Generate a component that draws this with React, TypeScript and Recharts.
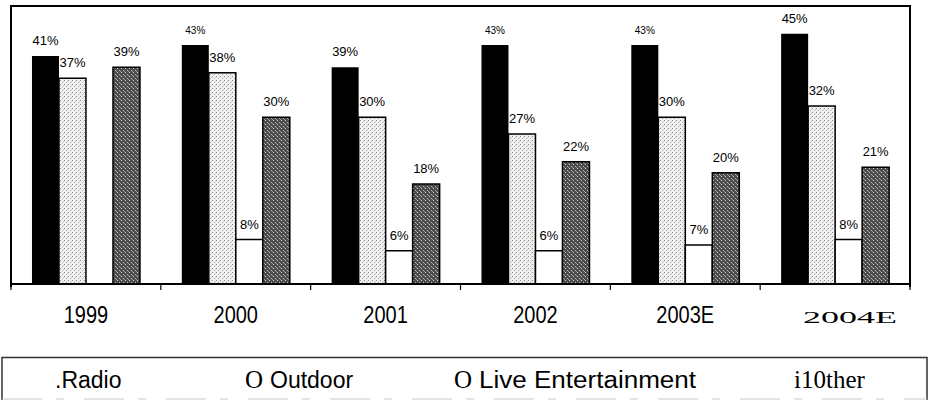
import React from 'react';
import { BarChart, Bar, XAxis, YAxis, LabelList } from 'recharts';

// values (percent)
const years = ['1999', '2000', '2001', '2002', '2003E', '2004E'];
const radio = [41, 43, 39, 43, 43, 45];
const outdoor = [37, 38, 30, 27, 30, 32];
const liveEntertainment = [null, 8, 6, 6, 7, 8];
const other = [39, 30, 18, 22, 20, 21];

const data = years.map((year, i) => ({
  year,
  radio: radio[i],
  outdoor: outdoor[i],
  live: liveEntertainment[i],
  other: other[i],
}));

const W = 932;
const MARGIN = { top: 6, right: 22, bottom: 0, left: 11 };
const PLOT_W = W - MARGIN.left - MARGIN.right;
const BAND = PLOT_W / years.length;
const SANS = "'Liberation Sans', Arial, sans-serif";
const SERIF = "'Liberation Serif', 'Times New Roman', serif";

// labels that were printed in a smaller size in the original
const smallLabels: Record<string, string[]> = {
  radio: ['2000', '2002', '2003E'],
  live: ['2004E'],
};

const makeLabel = (key: string) => (props: any) => {
  const { x, y, width, value, index } = props;
  if (value == null) return null;
  const small = (smallLabels[key] || []).includes(years[index]);
  return (
    <text
      x={Number(x) + Number(width) / 2}
      y={Number(y) - 11}
      textAnchor="middle"
      fontSize={small ? 10 : 13}
      fontFamily={SANS}
      fill="#000"
    >
      {value}%
    </text>
  );
};

const YearTick = (props: any) => {
  const { x, y, payload, index } = props;
  const last = index === years.length - 1;
  const serif = payload.value === '2004E';
  return (
    <g>
      <line x1={x - BAND / 2} x2={x - BAND / 2} y1={y} y2={y + 6} stroke="#000" strokeWidth={1.2} />
      {last && <line x1={x + BAND / 2} x2={x + BAND / 2} y1={y} y2={y + 6} stroke="#000" strokeWidth={1.2} />}
      {serif ? (
        <text
          x={x + 15}
          y={y + 39}
          textAnchor="middle"
          fontSize={17}
          fontFamily={SERIF}
          textLength={94}
          lengthAdjust="spacingAndGlyphs"
          fill="#000"
        >
          {payload.value}
        </text>
      ) : (
        <g transform={`translate(${x},${y + 39}) scale(1,1.15)`}>
          <text x={0} y={0} textAnchor="middle" fontSize={20} fontFamily={SANS} fill="#000">
            {payload.value}
          </text>
        </g>
      )}
    </g>
  );
};

function Legend() {
  const base = { fill: '#000' };
  return (
    <svg width={W} height={44} style={{ position: 'absolute', left: 0, top: 356 }}>
      <path d="M2 44 V1.5 H927 V44" fill="none" stroke="#333" strokeWidth={1.5} />
      <line x1={2} x2={927} y1={43} y2={43} stroke="#c8c8c8" strokeWidth={1} strokeDasharray="40 14 8 20" />
      <text x={55} y={32} fontSize={23} fontFamily={SANS} {...base}>.Radio</text>
      <text x={245} y={32} fontSize={25} fontFamily={SERIF} {...base}>O</text>
      <text x={270} y={32} fontSize={23} fontFamily={SANS} {...base}>Outdoor</text>
      <text x={454} y={32} fontSize={25} fontFamily={SERIF} {...base}>O</text>
      <text x={479} y={32} fontSize={23} fontFamily={SANS} textLength={217} lengthAdjust="spacingAndGlyphs" {...base}>
        Live Entertainment
      </text>
      <text x={794} y={32} fontSize={25} fontFamily={SERIF} {...base}>i10ther</text>
    </svg>
  );
}

export default function App() {
  return (
    <div style={{ position: 'absolute', left: 0, top: 0, width: W, height: 400, background: '#fff' }}>
      <BarChart
        width={W}
        height={340}
        data={data}
        margin={MARGIN}
        barCategoryGap="14%"
        barGap={0}
      >
        <defs>
          <pattern id="dotsLight" width="4" height="4" patternUnits="userSpaceOnUse">
            <rect width="4" height="4" fill="#f0f0f0" />
            <rect x="0" y="0" width="1" height="1" fill="#8a8a8a" />
            <rect x="2" y="2" width="1" height="1" fill="#b0b0b0" />
            <rect x="3" y="1" width="1" height="1" fill="#cccccc" />
          </pattern>
          <pattern id="dotsDark" width="4" height="4" patternUnits="userSpaceOnUse">
            <rect width="4" height="4" fill="#4c4c4c" />
            <rect x="1" y="0" width="1" height="1" fill="#d0d0d0" />
            <rect x="3" y="2" width="1" height="1" fill="#b8b8b8" />
            <rect x="0" y="3" width="1" height="1" fill="#9a9a9a" />
          </pattern>
        </defs>
        <XAxis
          dataKey="year"
          height={56}
          axisLine={{ stroke: '#000', strokeWidth: 2 }}
          tickLine={false}
          tickSize={0}
          tickMargin={0}
          tick={<YearTick />}
          interval={0}
        />
        <YAxis hide domain={[0, 50]} />
        <Bar dataKey="radio" fill="#000" isAnimationActive={false}>
          <LabelList dataKey="radio" content={makeLabel('radio')} />
        </Bar>
        <Bar dataKey="outdoor" fill="url(#dotsLight)" stroke="#000" strokeWidth={1.5} isAnimationActive={false}>
          <LabelList dataKey="outdoor" content={makeLabel('outdoor')} />
        </Bar>
        <Bar dataKey="live" fill="#fff" stroke="#000" strokeWidth={1.5} isAnimationActive={false}>
          <LabelList dataKey="live" content={makeLabel('live')} />
        </Bar>
        <Bar dataKey="other" fill="url(#dotsDark)" stroke="#000" strokeWidth={1.5} isAnimationActive={false}>
          <LabelList dataKey="other" content={makeLabel('other')} />
        </Bar>
      </BarChart>
      {/* frame around the plot area (top, left, right) */}
      <div
        style={{
          position: 'absolute',
          left: 10,
          top: 5,
          width: PLOT_W - 2,
          height: 280,
          borderTop: '2px solid #000',
          borderLeft: '2px solid #000',
          borderRight: '2px solid #000',
          pointerEvents: 'none',
        }}
      />
      <Legend />
    </div>
  );
}
